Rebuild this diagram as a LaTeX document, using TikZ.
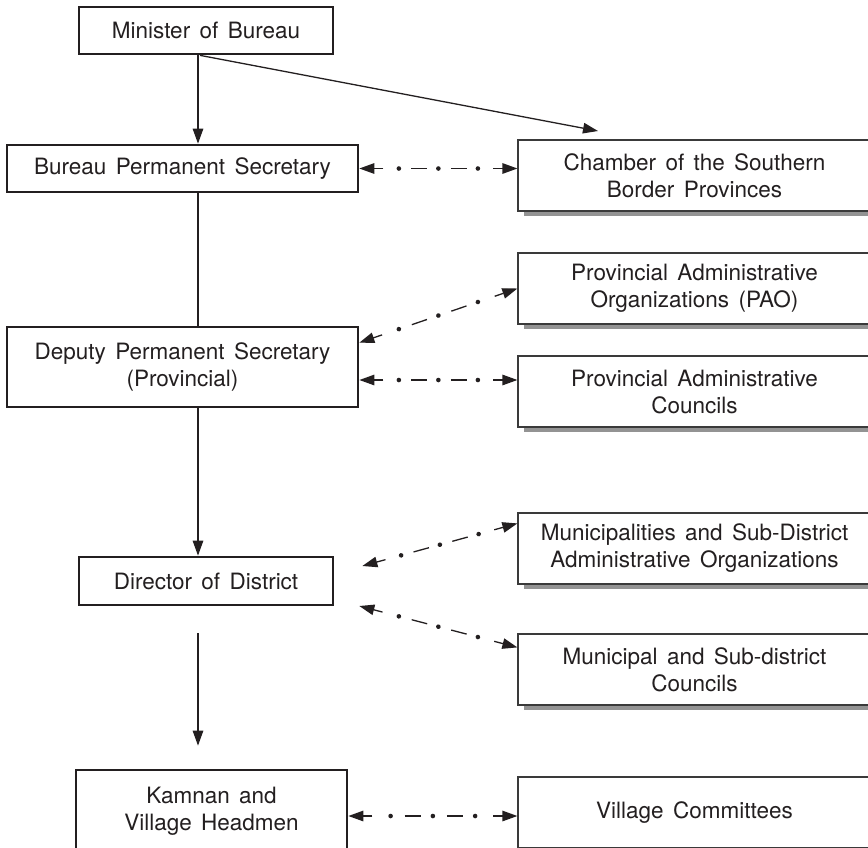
\documentclass[tikz,border=0pt]{standalone}
\usepackage{fontspec}
\setmainfont[WordSpace=1.5]{TeX Gyre Heros}
\usetikzlibrary{arrows.meta,shadows,decorations.markings,calc}
\definecolor{ink}{HTML}{231F20}
\definecolor{rline}{HTML}{3A3A3A}
\definecolor{shade}{HTML}{939393}
\tikzset{
  txt/.style={font=\fontsize{22.5pt}{27pt}\selectfont, text=ink, align=center, inner sep=0pt},
  lbox/.style={txt, rectangle, draw=ink, line width=2.7pt, fill=white},
  rbox/.style={txt, rectangle, draw=rline, line width=1.2pt, fill=white,
    minimum width=353pt, minimum height=71pt,
    drop shadow={shadow xshift=6pt, shadow yshift=-5pt, fill=shade, opacity=1}},
  conn/.style={draw=ink, line width=1.3pt},
  tip/.style={-{Triangle[length=15pt,width=10.5pt]}},
  dotmark/.style={fill=ink},
  dd/.style={postaction={decorate}, decoration={markings,
    mark=at position 0 with {\draw[conn,tip] (24pt,0) -- (0pt,0pt);},
    mark=at position 0.25 with {\fill[dotmark] (0pt,0pt) circle (2.3pt);},
    mark=at position 0.38 with {\draw[conn] (-8pt,0pt) -- (8pt,0pt);},
    mark=at position 0.5 with {\fill[dotmark] (0pt,0pt) circle (2.3pt);},
    mark=at position 0.63 with {\draw[conn] (-8pt,0pt) -- (8pt,0pt);},
    mark=at position 0.75 with {\fill[dotmark] (0pt,0pt) circle (2.3pt);},
    mark=at position 1 with {\draw[conn,tip] (-24pt,0pt) -- (0pt,0pt);}}}
}
\begin{document}
\begin{tikzpicture}[x=1pt,y=-1pt]
\useasboundingbox (0,0) rectangle (868,847);
\clip (0,0) rectangle (868,847);

% left column
\node[lbox, minimum width=254pt, minimum height=47pt] (min) at (206,30.5) {Minister of Bureau};
\node[lbox, minimum width=351pt, minimum height=47pt] (bps) at (182.5,168.5) {Bureau Permanent Secretary};
\node[lbox, minimum width=351pt, minimum height=80pt] (dps) at (182.5,367) {Deputy Permanent Secretary\\(Provincial)};
\node[lbox, minimum width=254pt, minimum height=48pt] (dod) at (206,581) {Director of District};
\node[lbox, minimum width=271pt, minimum height=82pt] (kam) at (211.5,811) {Kamnan and\\Village Headmen};

% right column
\node[rbox] (csb) at (694.5,175.5) {Chamber of the Southern\\Border Provinces};
\node[rbox] (pao) at (694.5,288.5) {Provincial Administrative\\Organizations (PAO)};
\node[rbox] (pac) at (694.5,391.5) {Provincial Administrative\\Councils};
\node[rbox] (mun) at (694.5,548.5) {Municipalities and Sub-District\\Administrative Organizations};
\node[rbox] (msc) at (694.5,669.5) {Municipal and Sub-district\\Councils};
\node[rbox] (vc) at (694.5,812.5) {Village Committees};

% solid connectors
\coordinate (spine) at (198,0);
\coordinate (tipA) at (598,131);
\draw[conn,tip] (min.south -| spine) -- (bps.north -| spine);
\draw[conn,tip] ($(min.south -| spine)+(2,0)$) -- (tipA);
\draw[conn] (bps.south -| spine) -- (dps.north -| spine);
\draw[conn,tip] (dps.south -| spine) -- (dod.north -| spine);
\draw[conn,tip,shorten <=27pt,shorten >=23pt] (dod.south -| spine) -- (kam.north -| spine);

% dash-dot two-way connectors
\path[dd] (bps.east) -- (bps.east -| csb.west);
\path[dd] ($(dps.north east)+(0,17)$) -- (pao.west);
\path[dd] ($(dps.east)+(0,13)$) coordinate (q1) -- (q1 -| pac.west);
\coordinate (dm1) at ($(dod.east)+(28,-15)$);
\coordinate (dm2) at ($(dod.east)+(25,25)$);
\path[dd] (dm1) -- ($(mun.north west)+(0,11)$);
\path[dd] (dm2) -- ($(msc.north west)+(0,14)$);
\path[dd] ($(kam.east)+(0,5)$) coordinate (q2) -- (q2 -| vc.west);
\end{tikzpicture}
\end{document}
